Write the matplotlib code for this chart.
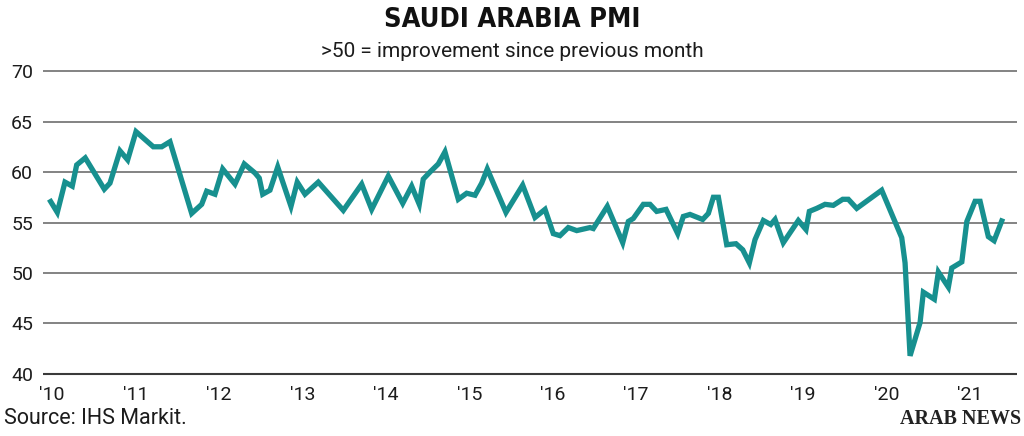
import matplotlib
matplotlib.use("Agg")
import matplotlib.pyplot as plt

# Saudi Arabia PMI (decimal year, index value)
anos = [2009.968, 2010.064, 2010.156, 2010.243, 2010.296, 2010.399, 2010.627, 2010.695,
        2010.815, 2010.907, 2011.007, 2011.214, 2011.315, 2011.414, 2011.674, 2011.794,
        2011.854, 2011.953, 2012.046, 2012.193, 2012.304, 2012.433, 2012.484, 2012.525,
        2012.612, 2012.705, 2012.864, 2012.939, 2013.032, 2013.191, 2013.491, 2013.711,
        2013.831, 2014.030, 2014.203, 2014.310, 2014.401, 2014.449, 2014.530, 2014.629,
        2014.709, 2014.869, 2014.969, 2015.069, 2015.149, 2015.216, 2015.440, 2015.640,
        2015.788, 2015.908, 2016.007, 2016.087, 2016.187, 2016.288, 2016.447, 2016.486,
        2016.654, 2016.839, 2016.906, 2016.966, 2017.086, 2017.166, 2017.246, 2017.358,
        2017.498, 2017.565, 2017.645, 2017.797, 2017.865, 2017.925, 2017.985, 2018.085,
        2018.196, 2018.277, 2018.356, 2018.424, 2018.524, 2018.612, 2018.664, 2018.763,
        2018.943, 2019.035, 2019.075, 2019.163, 2019.263, 2019.362, 2019.475, 2019.542,
        2019.643, 2019.942, 2020.090, 2020.182, 2020.222, 2020.282, 2020.402, 2020.441,
        2020.573, 2020.621, 2020.741, 2020.782, 2020.902, 2020.962, 2021.061, 2021.121,
        2021.220, 2021.289, 2021.392]
pmi = [57.3, 56.0, 59.0, 58.6, 60.7, 61.4, 58.3, 58.9,
       62.1, 61.2, 64.0, 62.5, 62.5, 63.0, 55.9, 56.8,
       58.1, 57.8, 60.3, 58.8, 60.8, 59.9, 59.4, 57.8,
       58.2, 60.5, 56.6, 59.0, 57.8, 59.0, 56.2, 58.8,
       56.3, 59.6, 56.9, 58.6, 56.8, 59.3, 60.0, 60.8,
       62.0, 57.3, 57.9, 57.7, 58.9, 60.3, 56.0, 58.7,
       55.5, 56.3, 53.9, 53.7, 54.5, 54.2, 54.5, 54.4,
       56.6, 53.0, 55.1, 55.4, 56.8, 56.8, 56.1, 56.3,
       53.9, 55.6, 55.8, 55.3, 55.9, 57.5, 57.5, 52.8,
       52.9, 52.3, 51.0, 53.3, 55.2, 54.8, 55.3, 53.0,
       55.2, 54.3, 56.1, 56.4, 56.8, 56.7, 57.3, 57.3,
       56.4, 58.2, 55.3, 53.5, 51.0, 41.8, 45.1, 48.1,
       47.4, 50.1, 48.6, 50.5, 51.1, 55.1, 57.1, 57.1,
       53.6, 53.2, 55.4]

anos_ticks = list(range(2010, 2022))
rotulos_x = ["'10", "'11", "'12", "'13", "'14", "'15", "'16", "'17", "'18", "'19", "'20", "'21"]
niveis_y = [40, 45, 50, 55, 60, 65, 70]

verde = '#17908f'
texto = '#1c1c1c'
fonte = ['Roboto', 'DejaVu Sans']

fig = plt.figure(figsize=(10.24, 4.36), dpi=100)
ax = fig.add_axes([0.0417, 0.1376, 0.9512, 0.7041])

# linhas de grade horizontais
for nivel in niveis_y:
    cor = '#3a3a3a' if nivel == 40 else '#6e6e6e'
    ax.axhline(nivel, color=cor, linewidth=1.5 if nivel == 40 else 1.2, zorder=1)

ax.plot(anos, pmi, color=verde, linewidth=3.8, solid_joinstyle='miter',
        solid_capstyle='butt', zorder=3)

ax.set_xlim(2009.889, 2021.560)
ax.set_ylim(39.8, 70.2)
ax.set_xticks(anos_ticks)
ax.set_xticklabels(rotulos_x)
ax.set_yticks(niveis_y)
ax.tick_params(axis='both', length=0, labelsize=14, colors=texto)
ax.tick_params(axis='y', pad=7)
ax.tick_params(axis='x', pad=7)
for lab in ax.get_xticklabels() + ax.get_yticklabels():
    lab.set_family(fonte)
for s in ax.spines.values():
    s.set_visible(False)

fig.text(0.5, 0.955, 'SAUDI ARABIA PMI', ha='center', va='center', fontsize=19.5,
         fontweight='bold', family='DejaVu Sans', fontstretch='condensed', color='#111111')
fig.text(0.5, 0.883, '>50 = improvement since previous month', ha='center', va='center',
         fontsize=15, family=fonte, color=texto)
fig.text(0.004, 0.04, 'Source: IHS Markit.', ha='left', va='center', fontsize=15.5,
         family=fonte, color=texto)
fig.text(0.997, 0.04, 'ARAB NEWS', ha='right', va='center', fontsize=14.5,
         family='Liberation Serif', fontweight='bold', color='#222222')

fig.savefig('out.png', dpi=100, facecolor='white')
